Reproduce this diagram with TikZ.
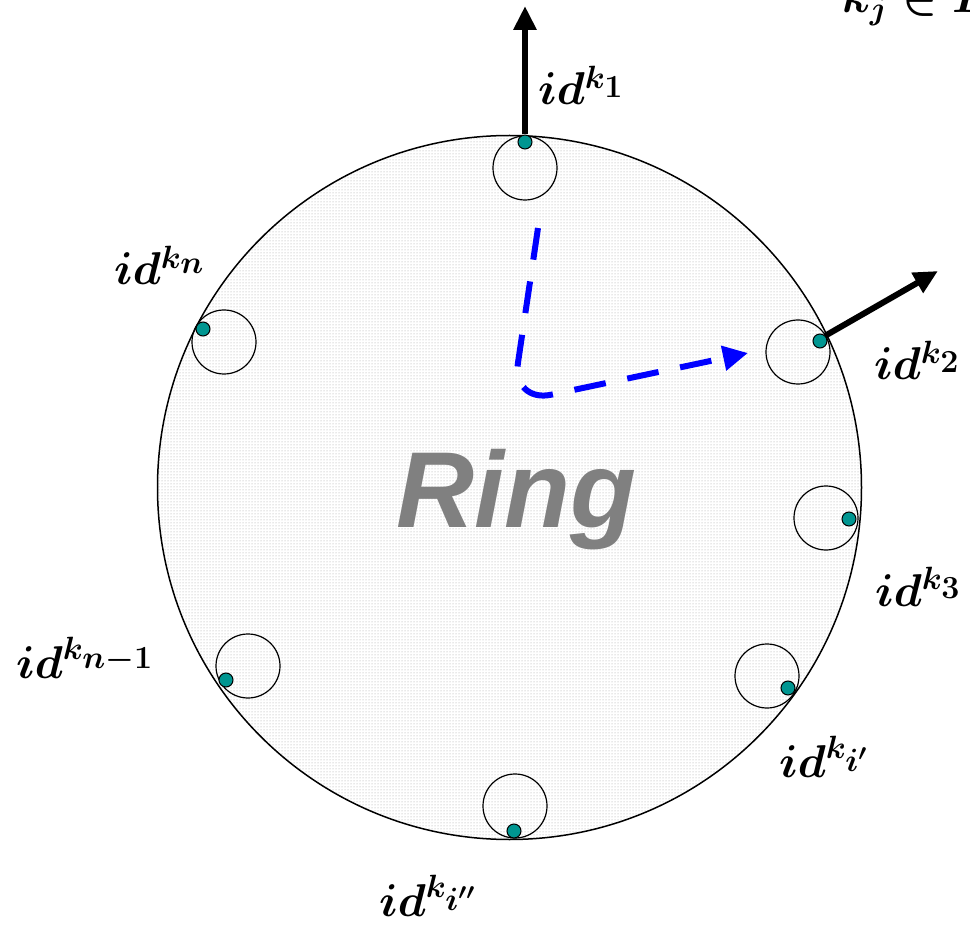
\RequirePackage{fix-cm}
\documentclass[tikz,border=0pt]{standalone}
\usepackage{fontspec}
\newfontfamily\ringfont{Liberation Sans}
\usetikzlibrary{arrows.meta,patterns}
\definecolor{dotcol}{RGB}{0,150,145}
\definecolor{ringgray}{RGB}{128,128,128}
\tikzset{
  peer/.style={circle, draw, line width=1.2pt, minimum size=64pt, inner sep=0pt},
  iddot/.style={circle, draw, line width=1pt, fill=dotcol, minimum size=14pt, inner sep=0pt},
  idlabel/.style={inner sep=0pt, font=\fontsize{46}{50}\selectfont\boldmath},
  bigarrow/.style={line width=6pt, -{Triangle[length=24pt,width=22pt]}},
  route/.style={blue, line width=6pt, dash pattern=on 32pt off 22pt, rounded corners=40pt, -{Triangle[length=25pt,width=24pt]}}
}
\begin{document}
\begin{tikzpicture}[x=1pt,y=-1pt]
\useasboundingbox (0,0) rectangle (970,925);
\clip (0,0) rectangle (970,925);
% ring
\node[circle, draw, line width=1.5pt, minimum size=704pt, inner sep=0pt, pattern=dots, pattern color=gray!75] (ring) at (509.5,487.5) {};
\node[anchor=base, text=ringgray, inner sep=0pt] (ringtext) at (516,527) {\ringfont\bfseries\itshape\fontsize{108}{120}\selectfont Ring};
% peers
\node[peer] (p1) at (525,168) {};
\node[peer] (p2) at (798,352) {};
\node[peer] (p3) at (826,518) {};
\node[peer] (pi1) at (767,676) {};
\node[peer] (pi2) at (515,806) {};
\node[peer] (pn1) at (248,666) {};
\node[peer] (pn) at (224,342) {};
% dots
\node[iddot] (d1) at (525,142) {};
\node[iddot] (d2) at (820,341) {};
\node[iddot] (d3) at (849,519) {};
\node[iddot] (di1) at (788,688) {};
\node[iddot] (di2) at (514,831) {};
\node[iddot] (dn1) at (226,680) {};
\node[iddot] (dn) at (203,329) {};
% arrows
\coordinate (a1) at (525,6);
\coordinate (a2) at (938,271);
\draw[bigarrow] (d1.north) -- (a1);
\draw[bigarrow] (d2.north east) -- (a2);
% routing path
\coordinate (r0) at (538,228);
\coordinate (r1) at (512,403);
\coordinate (r2) at (748,353);
\draw[route] (r0) -- (r1) -- (r2);
% labels
\node[idlabel, anchor=base west] (l1) at (538,105) {$id^{k_{\scriptstyle 1}}$};
\node[idlabel, anchor=base west] (l2) at (874,380) {$id^{k_{\scriptstyle 2}}$};
\node[idlabel, anchor=base west] (l3) at (875,606) {$id^{k_{\scriptstyle 3}}$};
\node[idlabel, anchor=base west] (li1) at (779,777) {$id^{k_{\scriptstyle i'}}$};
\node[idlabel, anchor=base west] (li2) at (379,916) {$id^{k_{\scriptstyle i''}}$};
\node[idlabel, anchor=base west] (ln1) at (16,678) {$id^{k_{\scriptstyle n-1}}$};
\node[idlabel, anchor=base west] (ln) at (114,285) {$id^{k_{\scriptstyle n}}$};
\node[idlabel, anchor=base west] (top) at (842,13) {$k_j\in I\backslash$};
\end{tikzpicture}
\end{document}
